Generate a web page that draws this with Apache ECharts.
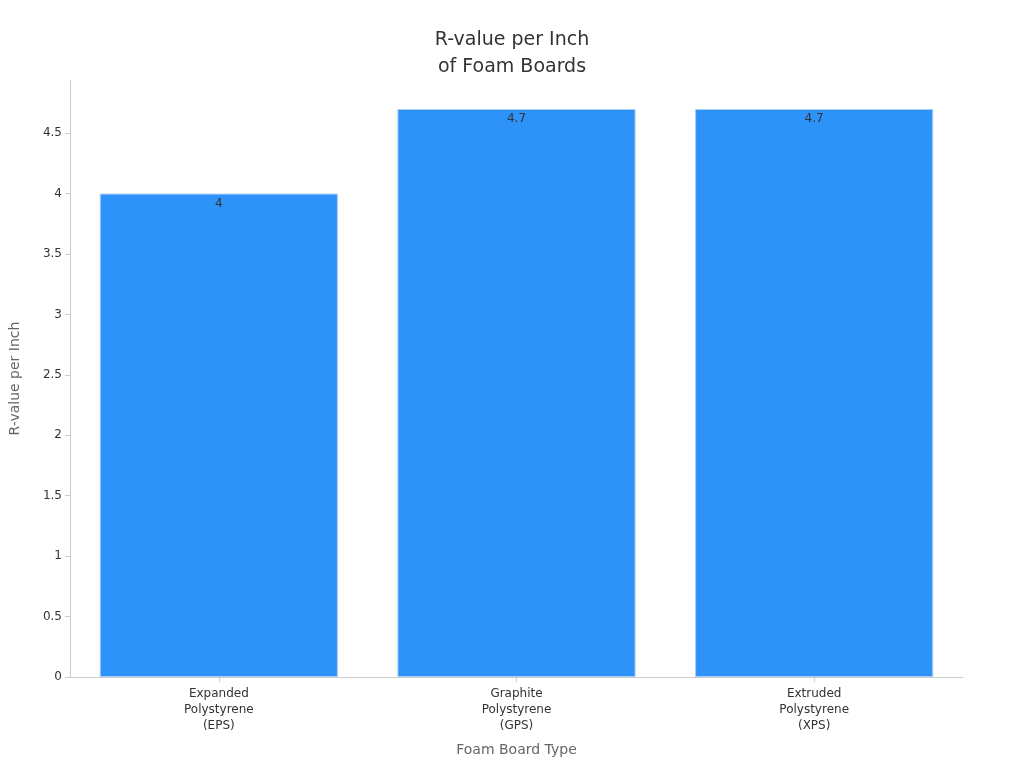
<!DOCTYPE html>
<html><head><meta charset="utf-8">
<script src="https://cdn.jsdelivr.net/npm/echarts@6/dist/echarts.min.js"></script>
<style>html,body{margin:0;padding:0;background:#fff}#c{width:1024px;height:768px}</style>
</head><body><div id="c"></div>
<script>
const categories = ["Expanded\nPolystyrene\n(EPS)", "Graphite\nPolystyrene\n(GPS)", "Extruded\nPolystyrene\n(XPS)"];
const values = [4, 4.7, 4.7];
const chart = echarts.init(document.getElementById('c'));
chart.setOption({
  textStyle:{fontFamily:'DejaVu Sans'},
  title:{text:'R-value per Inch\nof Foam Boards',left:'center',top:22,textStyle:{fontSize:19,fontWeight:'normal',color:'#333',lineHeight:27,fontFamily:'DejaVu Sans'}},
  grid:{left:64,right:61,top:80,bottom:91},
  xAxis:{type:'category',data:categories,name:'Foam Board Type',nameLocation:'middle',nameGap:66,
    nameTextStyle:{fontSize:14,color:'#666'},
    axisLine:{lineStyle:{color:'#ccc'}},axisTick:{show:true,alignWithLabel:true,lineStyle:{color:'#ccc'}},
    axisLabel:{color:'#333',fontSize:12,lineHeight:16,margin:9}},
  yAxis:{type:'value',min:0,max:4.94,interval:0.5,name:'R-value per Inch',nameLocation:'middle',nameGap:48,
    nameTextStyle:{fontSize:14,color:'#666'},
    axisLine:{show:true,lineStyle:{color:'#ccc'}},axisTick:{show:true,lineStyle:{color:'#ccc'}},
    splitLine:{show:false},axisLabel:{color:'#333',fontSize:12,showMaxLabel:false}},
  series:[{type:'bar',data:values,barWidth:'80%',
    itemStyle:{color:'#2e93f8',borderColor:'#a8cdf5',borderWidth:1},
    label:{show:true,position:'insideTop',color:'#333',fontSize:12,distance:4}}]
});
</script></body></html>
